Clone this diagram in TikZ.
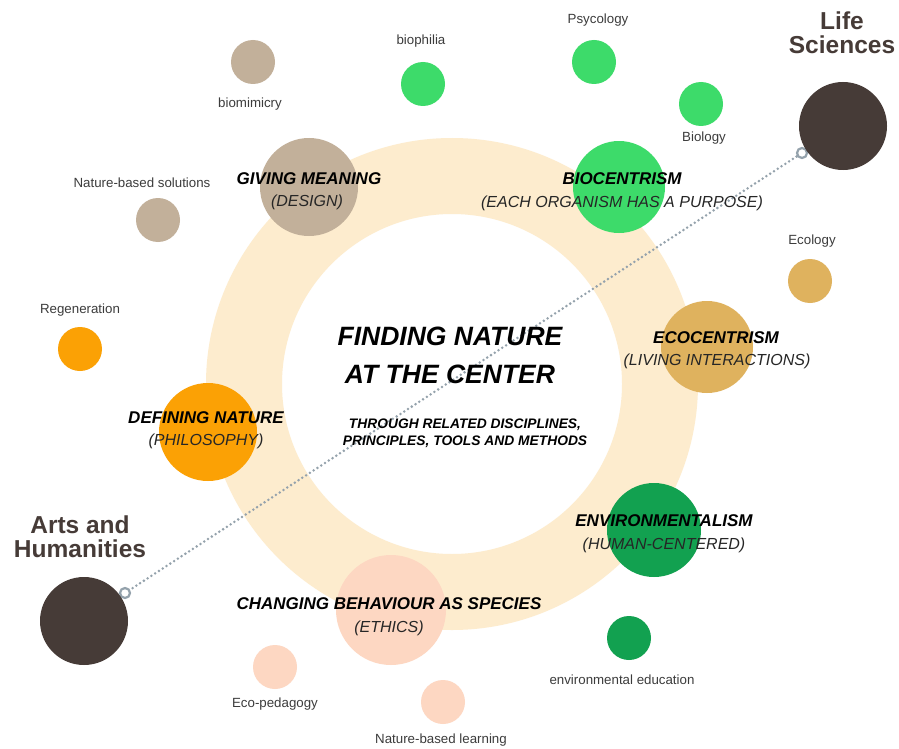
\documentclass[tikz,border=0pt]{standalone}
\usepackage{fontspec}
\setmainfont{Liberation Sans}
\begin{document}
\definecolor{ring}{HTML}{FDECCE}
\definecolor{tan}{HTML}{C2B09A}
\definecolor{lgreen}{HTML}{3DDB6A}
\definecolor{dgreen}{HTML}{12A150}
\definecolor{ochre}{HTML}{DFB25E}
\definecolor{orangec}{HTML}{FBA105}
\definecolor{pinkc}{HTML}{FDD7C2}
\definecolor{darkc}{HTML}{463B37}
\definecolor{dotc}{HTML}{94A2AC}
\definecolor{labelc}{HTML}{3C3C3C}
\begin{tikzpicture}[x=1pt,y=-1pt,
  bubble/.style={circle,inner sep=0pt,minimum size=#1},
  head/.style={font=\fontsize{17}{19}\selectfont\bfseries\itshape,text=black},
  sub/.style={font=\fontsize{16}{18}\selectfont\itshape,text=black!85},
  small/.style={font=\fontsize{13.3}{15}\selectfont,text=labelc},
  field/.style={font=\fontsize{24.5}{24}\selectfont\bfseries,text=darkc,align=center},
  endmark/.style={circle,draw=dotc,line width=2.2pt,inner sep=0pt,minimum size=10pt,fill=white}]
\useasboundingbox (0,0) rectangle (899,749);
\fill[white] (0,0) rectangle (899,749);
% central ring
\fill[ring,even odd rule] (452,384) circle (246) (452,384) circle (170);
% connector between the two fields
\coordinate (lifeend) at (802,153);
\coordinate (artsend) at (125,593);
\draw[dotc,line width=2.8pt,dash pattern=on 0pt off 4.5pt,line cap=round] (artsend) -- (lifeend);
\node[endmark] (lifemark) at (lifeend) {};
\node[endmark] (artsmark) at (artsend) {};
% main bubbles on the ring
\node[bubble=98pt,fill=tan] (design) at (309,187) {};
\node[bubble=92pt,fill=lgreen] (bio) at (619,187) {};
\node[bubble=92pt,fill=ochre] (eco) at (707,347) {};
\node[bubble=94pt,fill=dgreen] (env) at (654,530) {};
\node[bubble=110pt,fill=pinkc] (ethics) at (391,610) {};
\node[bubble=98pt,fill=orangec] (philo) at (208,432) {};
% the two fields
\node[bubble=88pt,fill=darkc] (life) at (843,126) {};
\node[bubble=88pt,fill=darkc] (arts) at (84,621) {};
% small satellite bubbles
\node[bubble=44pt,fill=tan] (biomim) at (253,62) {};
\node[bubble=44pt,fill=lgreen] (biophil) at (423,84) {};
\node[bubble=44pt,fill=lgreen] (psy) at (594,62) {};
\node[bubble=44pt,fill=lgreen] (biol) at (701,104) {};
\node[bubble=44pt,fill=ochre] (ecol) at (810,281) {};
\node[bubble=44pt,fill=tan] (nbs) at (158,220) {};
\node[bubble=44pt,fill=orangec] (regen) at (80,349) {};
\node[bubble=44pt,fill=dgreen] (enved) at (629,638) {};
\node[bubble=44pt,fill=pinkc] (ecoped) at (275,667) {};
\node[bubble=44pt,fill=pinkc] (nbl) at (443,702) {};
% satellite labels
\node[small] (biomimt) at (250,104) {biomimicry};
\node[small] (biophilt) at (421,41) {biophilia};
\node[small] (psyt) at (598,20) {Psycology};
\node[small] (biolt) at (704,138) {Biology};
\node[small] (ecolt) at (812,241) {Ecology};
\node[small] (nbst) at (142,183) {Nature-based solutions};
\node[small] (regent) at (80,310) {Regeneration};
\node[small] (envedt) at (622,680) {environmental education};
\node[small] (ecopedt) at (275,704) {Eco-pedagogy};
\node[small] (nblt) at (441,740) {Nature-based learning};
% field titles
\node[field] (lifet) at (842,33) {Life\\Sciences};
\node[field] (artst) at (80,537) {Arts and\\Humanities};
% bubble titles
\node[head] (designh) at (309,179) {GIVING MEANING};
\node[sub] (designs) at (307,202) {(DESIGN)};
\node[head] (bioh) at (622,179) {BIOCENTRISM};
\node[sub] (bios) at (622,203) {(EACH ORGANISM HAS A PURPOSE)};
\node[head] (ecoh) at (716,338) {ECOCENTRISM};
\node[sub] (ecos) at (717,361) {(LIVING INTERACTIONS)};
\node[head] (philoh) at (206,418) {DEFINING NATURE};
\node[sub] (philos) at (206,441) {(PHILOSOPHY)};
\node[head] (envh) at (664,521) {ENVIRONMENTALISM};
\node[sub] (envs) at (664,545) {(HUMAN-CENTERED)};
\node[head] (ethicsh) at (389,604) {CHANGING BEHAVIOUR AS SPECIES};
\node[sub] (ethicss) at (389,628) {(ETHICS)};
% centre text
\node[font=\fontsize{26.5}{38}\selectfont\bfseries\itshape,align=center] (title) at (450,355) {FINDING NATURE\\AT THE CENTER};
\node[font=\fontsize{13.8}{17}\selectfont\bfseries\itshape,align=center] (subtitle) at (465,433) {THROUGH RELATED DISCIPLINES,\\PRINCIPLES, TOOLS AND METHODS};
\end{tikzpicture}
\end{document}
